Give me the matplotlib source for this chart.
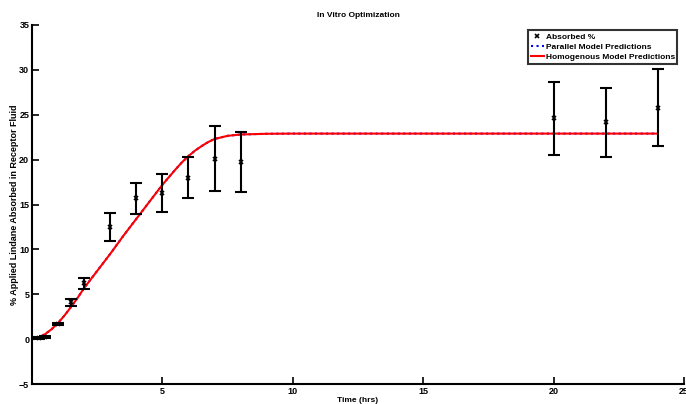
import numpy as np
import matplotlib
matplotlib.use("Agg")
import matplotlib.pyplot as plt

plt.rcParams["font.family"] = ["Liberation Sans", "DejaVu Sans"]
plt.rcParams["font.weight"] = "bold"

# measured absorption (mean +/- error)
t_obs = [0.25, 0.5, 1, 1.5, 2, 3, 4, 5, 6, 7, 8, 20, 22, 24]
absorbed = [0.15, 0.2, 1.7, 4.1, 6.2, 12.5, 15.7, 16.3, 18.0, 20.1, 19.7, 24.6, 24.15, 25.8]
err = [0.1, 0.1, 0.1, 0.4, 0.6, 1.6, 1.75, 2.15, 2.25, 3.6, 3.35, 4.05, 3.85, 4.3]

# model predictions
t_model = [0, 0.25, 0.5, 0.75, 1, 1.25, 1.5, 1.75, 2, 2.5, 3, 3.5, 4, 4.5, 5,
           5.5, 5.75, 6, 6.25, 6.5, 6.75, 7, 7.5, 8, 9, 10, 12, 14, 16, 18, 20, 22, 24]
homog = [0, 0.2, 0.55, 1.1, 1.8, 2.65, 3.6, 4.6, 5.7, 7.6, 9.5, 11.5, 13.4, 15.3, 17.2,
         18.9, 19.7, 20.4, 21.0, 21.5, 21.95, 22.3, 22.65, 22.8, 22.88, 22.9, 22.9, 22.9,
         22.9, 22.9, 22.9, 22.9, 22.9]
parallel = homog  # the two model curves overlap

fig = plt.figure(figsize=(6.86, 4.04), dpi=100)
ax = fig.add_axes([32 / 686, 1 - 384 / 404, 652 / 686, 359 / 404])

ax.plot(t_model, parallel, color="blue", ls=":", lw=1.5, label="Parallel Model Predictions")
ax.plot(t_model, homog, color="red", lw=1.5, label="Homogenous Model Predictions")
ax.errorbar(t_obs, absorbed, yerr=err, fmt="none", ecolor="black", elinewidth=1.5,
            capsize=4.4, capthick=1.5, zorder=3)
ax.plot(t_obs, absorbed, ls="none", marker="x", ms=2.5, mew=1.2, color="black",
        label="Absorbed %", zorder=4)

ax.set_xlim(0, 25)
ax.set_ylim(-5, 35)
ax.set_xticks([5, 10, 15, 20, 25])
ax.set_yticks(range(-5, 36, 5))
for s in ["top", "right"]:
    ax.spines[s].set_visible(False)
for s in ["left", "bottom"]:
    ax.spines[s].set_linewidth(1.5)
ax.tick_params(direction="in", length=5, width=1.2, labelsize=6.5, pad=2)

ax.set_title("In Vitro Optimization", fontsize=6, fontweight="bold", pad=6)
ax.set_xlabel("Time (hrs)", fontsize=6, fontweight="bold", labelpad=1)
ax.set_ylabel("% Applied Lindane Absorbed in Receptor Fluid", fontsize=6.5,
              fontweight="bold", labelpad=0)

h, l = ax.get_legend_handles_labels()
order = [2, 0, 1]
leg = ax.legend([h[i] for i in order], [l[i] for i in order], loc="upper right",
                bbox_to_anchor=(0.99, 0.985), fontsize=6, frameon=True, fancybox=False,
                handlelength=1.6, handletextpad=0.2, borderpad=0.3, labelspacing=0.3,
                borderaxespad=0)
leg.get_frame().set_edgecolor("black")
leg.get_frame().set_linewidth(1.5)

fig.savefig("out.png", dpi=100)
